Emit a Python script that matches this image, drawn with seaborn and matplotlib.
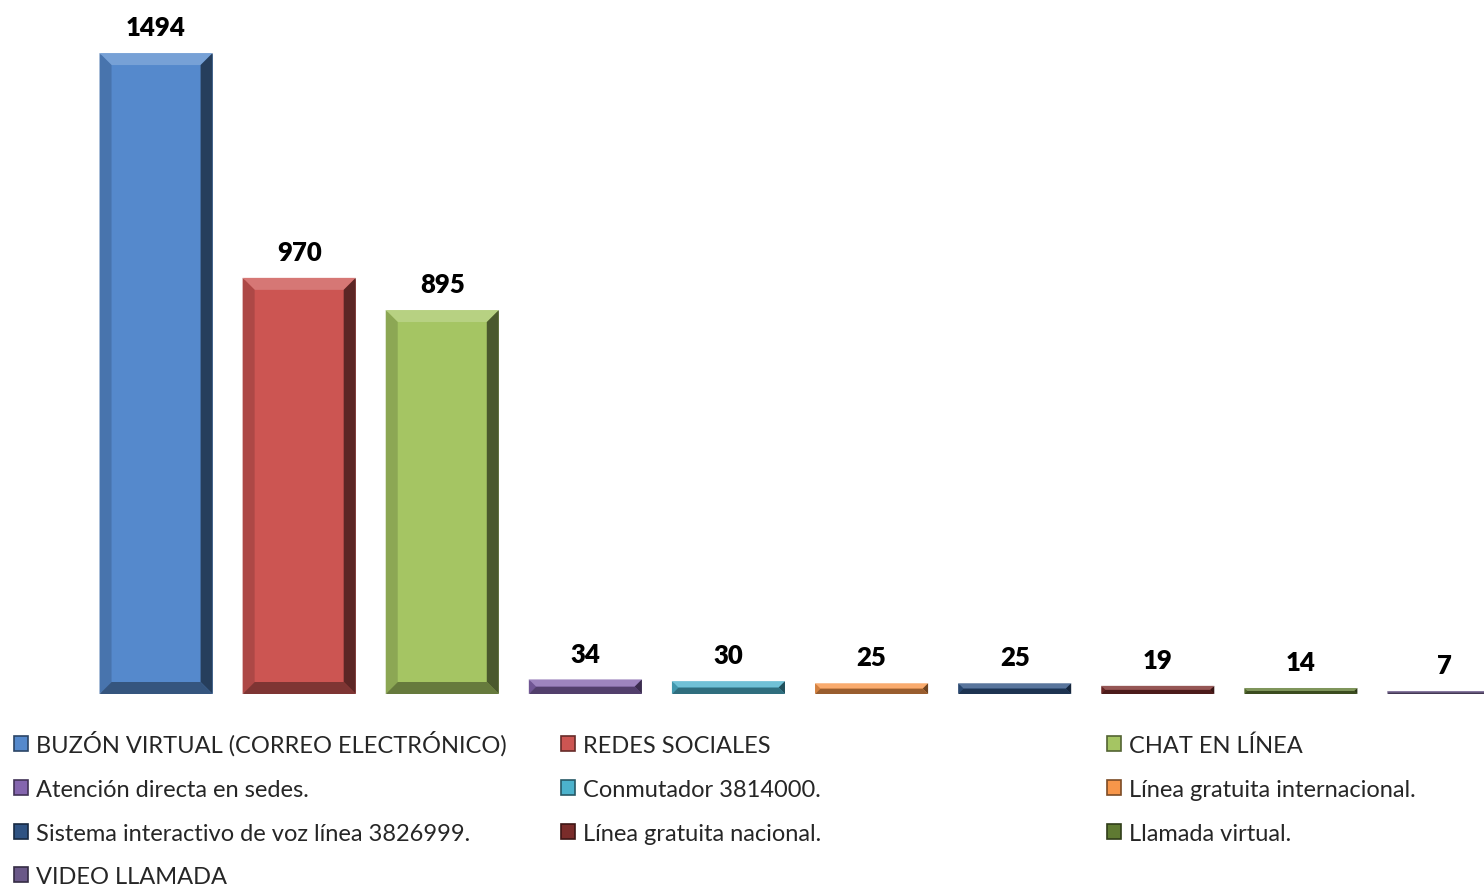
import matplotlib
matplotlib.use("Agg")
import matplotlib.pyplot as plt
from matplotlib.patches import Patch, Polygon
import matplotlib.colors as mcolors
import numpy as np
import pandas as pd
import seaborn as sns

# Channel names and number of requests received through each one
channels = [
    "BUZÓN VIRTUAL (CORREO ELECTRÓNICO)",
    "REDES SOCIALES",
    "CHAT EN LÍNEA",
    "Atención directa en sedes.",
    "Conmutador 3814000.",
    "Línea gratuita internacional.",
    "Sistema interactivo de voz línea 3826999.",
    "Línea gratuita nacional.",
    "Llamada virtual.",
    "VIDEO LLAMADA",
]
counts = [1494, 970, 895, 34, 30, 25, 25, 19, 14, 7]
colors = [
    "#5589CC", "#CC5552", "#A5C563", "#8465AE", "#4CB2CC",
    "#F7964A", "#2F5383", "#7A2C2A", "#5F7A32", "#6A5888",
]

sns.set_style("white")
plt.rcParams["font.family"] = ["Lato", "DejaVu Sans"]

W, H = 1484, 887
fig = plt.figure(figsize=(W / 100, H / 100), dpi=100)
ax = fig.add_axes([84.5 / W, (H - 695) / H, 1 - 84.5 / W, 695 / H])

df = pd.DataFrame({"canal": channels, "valor": counts})
palette = dict(zip(channels, colors))
sns.barplot(data=df, x="canal", y="valor", hue="canal", palette=palette,
            order=channels, hue_order=channels, dodge=False, width=0.79,
            saturation=1, legend=False, ax=ax)

ax.set_xlim(-0.5, 9.5 - 31.5 / 143)
ax.set_ylim(0, 1620)
ax.set_axis_off()


def shade(c, f):
    r, g, b = mcolors.to_rgb(c)
    return (r * f, g * f, b * f)


def tint(c, f):
    r, g, b = mcolors.to_rgb(c)
    return (r + (1 - r) * f, g + (1 - g) * f, b + (1 - b) * f)


# bevelled look: trapezoids along each bar's edges
to_disp = ax.transData
inv = ax.transData.inverted()
for cont in ax.containers:
    for bar in cont:
        x0, w, h = bar.get_x(), bar.get_width(), bar.get_height()
        col = bar.get_facecolor()
        (px0, py0), (px1, py1) = to_disp.transform([(x0, 0), (x0 + w, h)])
        b = min(12.0, (py1 - py0) / 2.0, (px1 - px0) / 2.0)
        pts = {
            "o0": (px0, py0), "o1": (px1, py0), "o2": (px1, py1), "o3": (px0, py1),
            "i0": (px0 + b, py0 + b), "i1": (px1 - b, py0 + b),
            "i2": (px1 - b, py1 - b), "i3": (px0 + b, py1 - b),
        }
        faces = [
            (["o3", "o2", "i2", "i3"], tint(col, 0.2)),    # top
            (["o0", "o3", "i3", "i0"], shade(col, 0.85)),  # left
            (["o1", "o2", "i2", "i1"], shade(col, 0.45)),  # right
            (["o0", "o1", "i1", "i0"], shade(col, 0.62)),  # bottom
        ]
        for keys, fc in faces:
            poly = inv.transform([pts[k] for k in keys])
            ax.add_patch(Polygon(poly, closed=True, facecolor=fc,
                                 edgecolor="none", zorder=3))
    ax.bar_label(cont, labels=[f"{int(v)}" for v in cont.datavalues],
                 padding=10, fontsize=18.5, fontweight="heavy", color="black")

# legend: three columns filled row by row, one entry per slot
handles = [Patch(facecolor=c, edgecolor=shade(c, 0.5), linewidth=1.2)
           for c in colors]
col_x = [14, 561, 1107]
row_y = [745, 789, 833, 876]
for i, (hnd, lab) in enumerate(zip(handles, channels)):
    cx = col_x[i % 3]
    cy = row_y[i // 3] + 12
    leg = fig.legend([hnd], [lab], loc="lower left",
                     bbox_to_anchor=(cx / W, (H - cy) / H),
                     frameon=False, fontsize=17, handlelength=0.6,
                     handleheight=0.6, handletextpad=0.35,
                     borderpad=0, borderaxespad=0)

fig.savefig("out.png", dpi=100)
